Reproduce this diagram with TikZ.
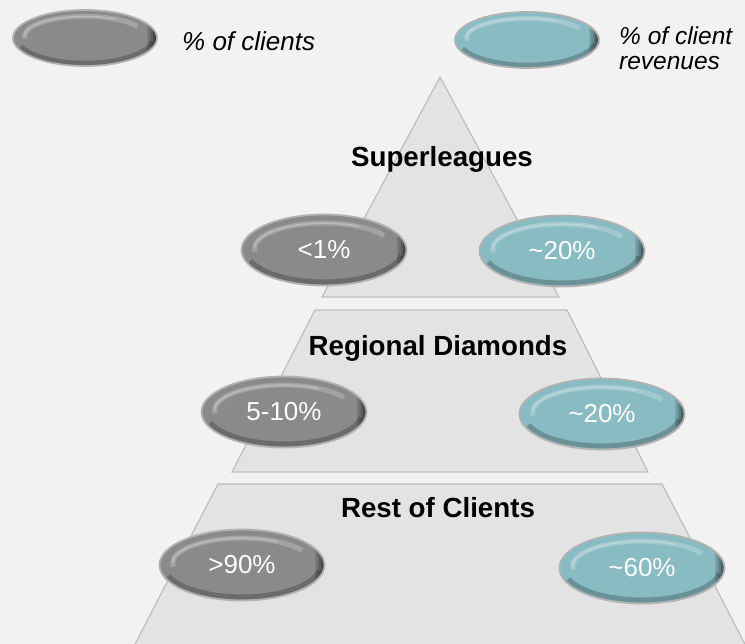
\documentclass[tikz,border=0pt]{standalone}
\usepackage{fontspec}
\setmainfont{Liberation Sans}
\usetikzlibrary{shapes.geometric}

\definecolor{bgcol}{HTML}{F2F2F2}
\definecolor{tierfill}{HTML}{E3E3E3}
\definecolor{tieredge}{HTML}{BEBEBE}
\definecolor{ovgray}{HTML}{8A8A8A}
\definecolor{ovgraydk}{HTML}{5E5E5E}
\definecolor{ovteal}{HTML}{88BBC2}
\definecolor{ovtealdk}{HTML}{628F96}
\definecolor{ovrim}{HTML}{B2B2B2}

% glossy button fills: flat centre, darker towards the rim
\pgfdeclareradialshading{grayfill}{\pgfpoint{0bp}{4bp}}{%
  color(0bp)=(ovgray); color(26bp)=(ovgray); color(40bp)=(ovgraydk); color(70bp)=(ovgraydk)}
\pgfdeclareradialshading{tealfill}{\pgfpoint{0bp}{4bp}}{%
  color(0bp)=(ovteal); color(26bp)=(ovteal); color(40bp)=(ovtealdk); color(70bp)=(ovtealdk)}

% soft highlight along the upper rim, shadow along the lower rim,
% and the darkened right end of each button
\newcommand\ovalgloss{%
  \draw[white,opacity=.22,line width=5pt]
    ([yshift=2pt]path picture bounding box.center)
    ++(188:{0.84*\ovrx} and {0.70*\ovry})
    arc[start angle=188,end angle=30,x radius={0.84*\ovrx},y radius={0.70*\ovry}];
  \draw[white,opacity=.25,line width=1.6pt]
    ([yshift=2pt]path picture bounding box.center)
    ++(180:{0.84*\ovrx} and {0.70*\ovry})
    arc[start angle=180,end angle=60,x radius={0.84*\ovrx},y radius={0.70*\ovry}];
  \draw[black,opacity=.22,line width=5pt]
    (path picture bounding box.center)
    ++(200:{0.95*\ovrx} and {0.90*\ovry})
    arc[start angle=200,end angle=350,x radius={0.95*\ovrx},y radius={0.90*\ovry}];
  \foreach \k/\op in {0/.12,1/.22,2/.34,3/.48,4/.62}{%
    \fill[black,opacity=\op]
      ([xshift={-10pt+2*\k pt}]path picture bounding box.north east)
      rectangle ([xshift={-8pt+2*\k pt}]path picture bounding box.south east);
  }%
}

\tikzset{
  tier/.style={fill=tierfill,draw=tieredge,line width=1.2pt,line join=miter},
  title/.style={anchor=base,font=\fontsize{27.7}{32}\selectfont\bfseries},
  legendtext/.style={anchor=base west,font=\fontsize{26}{30}\selectfont\itshape,inner sep=0pt},
  oval/.style={ellipse,inner sep=0pt,draw=ovrim,line width=1.8pt,text=white,
    font=\fontsize{26}{30}\selectfont,shade,path picture={\ovalgloss}},
  bigoval/.style={oval,minimum width=165pt,minimum height=71pt,
    /utils/exec={\def\ovrx{82.5pt}\def\ovry{35.5pt}}},
  smalloval/.style={oval,minimum width=144pt,minimum height=56pt,
    /utils/exec={\def\ovrx{72pt}\def\ovry{28pt}}},
  grayoval/.style={shading=grayfill},
  tealoval/.style={shading=tealfill},
}

\begin{document}
\begin{tikzpicture}[x=1pt,y=-1pt]
\useasboundingbox (0,0) rectangle (745,644);
\fill[bgcol] (0,0) rectangle (745,644);

% the three tiers of the pyramid
\begin{scope}
  \clip (0,0) rectangle (745,644);
  \draw[tier] (440,77) -- (559,297) -- (322,297) -- cycle;
  \draw[tier] (315,310) -- (567,310) -- (648,472) -- (232,472) -- cycle;
  \draw[tier] (218,484) -- (662,484) -- (748,650) -- (132,650) -- cycle;
\end{scope}

% tier titles
\node[title] (super)    at (442,167) {Superleagues};
\node[title] (regional) at (438,356) {Regional Diamonds};
\node[title] (rest)     at (438,518) {Rest of Clients};

% legend
\node[smalloval,grayoval] (legclients) at (85,38) {};
\node[legendtext] (legclientstxt) at (182,51) {\% of clients};
\node[smalloval,tealoval] (legrevenue) at (527,40) {};
\node[legendtext,font=\fontsize{24.5}{25}\selectfont\itshape] (legrevenuetxt1) at (619,45) {\% of client};
\node[legendtext,font=\fontsize{24.5}{25}\selectfont\itshape] (legrevenuetxt2) at (619,70) {revenues};

% shares per tier
\node[bigoval,grayoval] (superclients) at (324,250) {<1\%};
\node[bigoval,tealoval] (superrevenue) at (562,251) {\textasciitilde20\%};
\node[bigoval,grayoval] (regclients)   at (284,412) {5-10\%};
\node[bigoval,tealoval] (regrevenue)   at (602,414) {\textasciitilde20\%};
\node[bigoval,grayoval] (restclients)  at (242,565) {>90\%};
\node[bigoval,tealoval] (restrevenue)  at (642,568) {\textasciitilde60\%};
\end{tikzpicture}
\end{document}
